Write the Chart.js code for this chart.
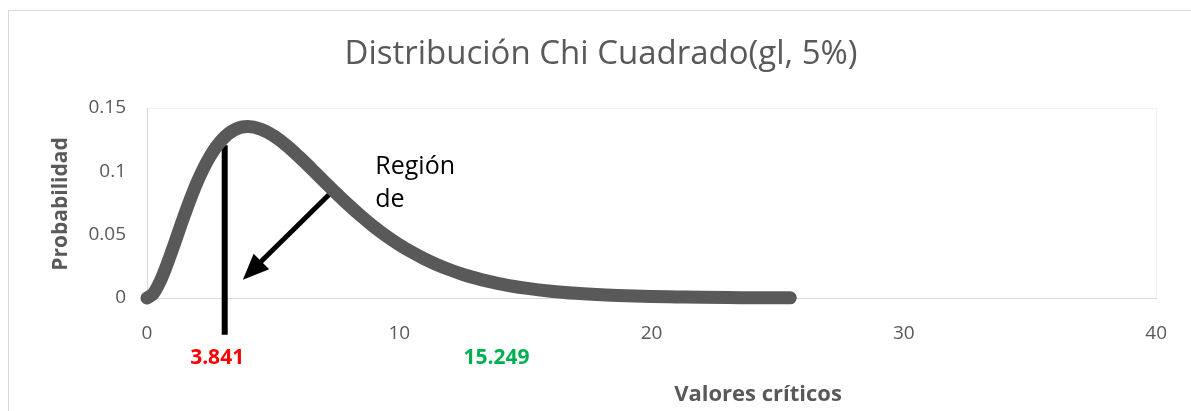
<!DOCTYPE html>
<html>
<head>
<meta charset="utf-8">
<script src="https://cdn.jsdelivr.net/npm/chart.js@4.4.1/dist/chart.umd.min.js"></script>
<style>
  html, body { margin: 0; padding: 0; background: #fff; }
  #wrap { width: 1191px; height: 411px; }
</style>
</head>
<body>
<div id="wrap"><canvas id="chart" width="1191" height="411"></canvas></div>
<script>
// chi-square curve
const xValues = [0, 0.25, 0.5, 0.75, 1, 1.5, 2, 2.5, 3, 3.5, 4, 4.5, 5, 5.5, 6, 6.5, 7, 7.5, 8, 8.5, 9, 9.5,
    10, 10.5, 11, 11.5, 12, 12.5, 13, 13.5, 14, 14.5, 15, 16, 17, 18, 19, 20, 21, 22, 23, 24, 25, 25.5];
const probValues = [0, 0.0035, 0.0122, 0.0242, 0.0379, 0.0664, 0.092, 0.1119, 0.1255, 0.1331, 0.1353, 0.1334, 0.1283,
    0.1209, 0.112, 0.1024, 0.0925, 0.0827, 0.0733, 0.0644, 0.0562, 0.0488, 0.0421, 0.0362, 0.0309,
    0.0263, 0.0223, 0.0188, 0.0159, 0.0133, 0.0112, 0.0093, 0.0078, 0.0054, 0.0037, 0.0025, 0.0017,
    0.0011, 0.0008, 0.0005, 0.0003, 0.0002, 0.0001, 0.0001];

// marker line and arrow
const markerX = [3.08, 3.08];
const markerY = [0.1205, -0.029];
const arrowX = [7.37, 3.8];
const arrowY = [0.0846, 0.0144];

const xTicks = [0, 10, 20, 30, 40];
const yTicks = [0, 0.05, 0.1, 0.15];

const criticalLabels = ['3.841', '15.249'];
const criticalPos = [2.78, 13.85];
const criticalColors = ['#ff0000', '#00b050'];

const grey = '#595959';

const pts = (xs, ys) => xs.map((x, i) => ({ x: x, y: ys[i] }));

const decorPlugin = {
    id: 'decor',
    beforeDraw(chart) {
        const c = chart.ctx;
        const a = chart.chartArea;
        c.save();
        c.fillStyle = '#fff';
        c.fillRect(0, 0, chart.width, chart.height);
        // outer frame
        c.strokeStyle = '#d9d9d9';
        c.lineWidth = 1;
        c.strokeRect(8.5, 10.5, chart.width + 20, chart.height + 20);
        // faint plot border top/right
        c.strokeStyle = '#f0f0f0';
        c.beginPath();
        c.moveTo(a.left, a.top + 0.5);
        c.lineTo(a.right + 0.5, a.top + 0.5);
        c.lineTo(a.right + 0.5, a.bottom);
        c.stroke();
        // title
        c.fillStyle = grey;
        c.font = '33px "Open Sans"';
        c.textAlign = 'center';
        c.textBaseline = 'middle';
        c.fillText('Distribución Chi Cuadrado(gl, 5%)', 601, 55);
        // y axis title
        c.font = 'bold 21px "Open Sans"';
        c.save();
        c.translate(61, 204);
        c.rotate(-Math.PI / 2);
        c.fillText('Probabilidad', 0, 0);
        c.restore();
        // x axis title
        c.font = 'bold 22px "Open Sans"';
        c.fillText('Valores críticos', 758, 395);
        c.restore();
    },
    afterDatasetsDraw(chart) {
        const c = chart.ctx;
        const xs = chart.scales.x, ys = chart.scales.y;
        c.save();
        // arrow head
        const x1 = xs.getPixelForValue(arrowX[0]), y1 = ys.getPixelForValue(arrowY[0]);
        const x2 = xs.getPixelForValue(arrowX[1]), y2 = ys.getPixelForValue(arrowY[1]);
        const ang = Math.atan2(y2 - y1, x2 - x1);
        const len = 26, half = 11;
        c.fillStyle = '#000';
        c.beginPath();
        c.moveTo(x2, y2);
        c.lineTo(x2 - len * Math.cos(ang) - half * Math.sin(ang), y2 - len * Math.sin(ang) + half * Math.cos(ang));
        c.lineTo(x2 - len * Math.cos(ang) + half * Math.sin(ang), y2 - len * Math.sin(ang) - half * Math.cos(ang));
        c.closePath();
        c.fill();
        // annotation text
        c.fillStyle = '#000';
        c.font = '25px "Open Sans"';
        c.textAlign = 'left';
        c.textBaseline = 'middle';
        c.fillText('Región', xs.getPixelForValue(9.05), ys.getPixelForValue(0.1035));
        c.fillText('de', xs.getPixelForValue(9.05), ys.getPixelForValue(0.0775));
        // critical values
        c.font = 'bold 21px "Open Sans"';
        c.textAlign = 'center';
        criticalLabels.forEach((t, i) => {
            c.fillStyle = criticalColors[i];
            c.fillText(t, xs.getPixelForValue(criticalPos[i]), 358);
        });
        c.restore();
    }
};

new Chart(document.getElementById('chart'), {
    type: 'scatter',
    data: {
        datasets: [
            {
                data: pts(xValues, probValues),
                showLine: true,
                borderColor: grey,
                borderWidth: 13,
                borderCapStyle: 'round',
                borderJoinStyle: 'round',
                cubicInterpolationMode: 'monotone',
                pointRadius: 0,
                clip: false
            },
            {
                data: pts(markerX, markerY),
                showLine: true,
                borderColor: '#000',
                borderWidth: 6,
                pointRadius: 0,
                clip: false
            },
            {
                data: pts(arrowX.slice(0, 1).concat([arrowX[1] + 0.55]), arrowY.slice(0, 1).concat([arrowY[1] + 0.011])),
                showLine: true,
                borderColor: '#000',
                borderWidth: 5,
                pointRadius: 0,
                clip: false
            }
        ]
    },
    options: {
        responsive: false,
        animation: false,
        layout: { padding: { top: 108, right: 34, left: 0, bottom: 0 } },
        plugins: { legend: { display: false }, tooltip: { enabled: false } },
        scales: {
            x: {
                type: 'linear',
                min: 0, max: 40,
                afterBuildTicks: s => { s.ticks = xTicks.map(v => ({ value: v })); },
                afterFit: s => { s.height = 113; },
                grid: { display: false, drawTicks: false },
                border: { color: '#d9d9d9', width: 1 },
                ticks: { color: grey, font: { family: 'Open Sans', size: 19 }, padding: 24 }
            },
            y: {
                min: 0, max: 0.15,
                afterBuildTicks: s => { s.ticks = yTicks.map(v => ({ value: v })); },
                afterFit: s => { s.width = 147; },
                grid: { display: false, drawTicks: false },
                border: { color: '#d9d9d9', width: 1 },
                ticks: { color: grey, font: { family: 'Open Sans', size: 19 }, padding: 21,
                    callback: v => String(v) }
            }
        }
    },
    plugins: [decorPlugin]
});
</script>
</body>
</html>
